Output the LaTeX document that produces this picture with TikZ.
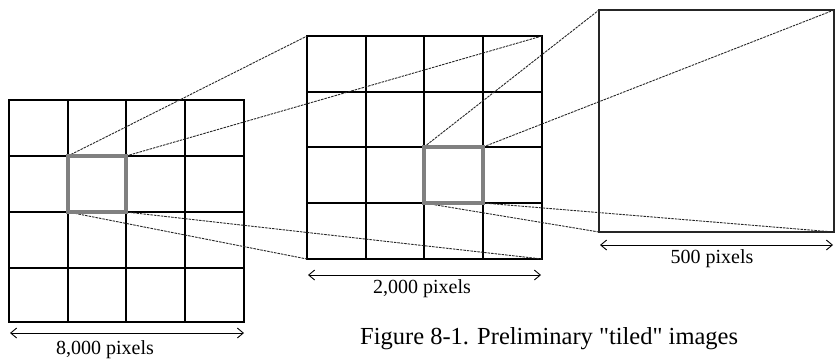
\documentclass[tikz,border=0pt]{standalone}
\usepackage{fontspec}
\setmainfont{Liberation Serif}
\newfontfamily\capfont{Liberation Serif}
\usetikzlibrary{arrows.meta}
\begin{document}
\begin{tikzpicture}[x=1pt,y=-1pt,
  gridline/.style={line width=1.3pt,black},
  boxline/.style={line width=1.1pt,black!85},
  hilite/.style={line width=3.5pt,black!50},
  zoomline/.style={line width=0.9pt,black!85,dash pattern=on 2.5pt off 1pt},
  dimarrow/.style={line width=0.9pt,{Straight Barb[length=6pt,width=10pt]}-{Straight Barb[length=6pt,width=10pt]}},
  lbl/.style={font=\fontsize{20}{24}\selectfont,inner sep=0pt,anchor=base},
  captiontext/.style={font=\capfont\fontsize{24.5}{28}\selectfont,inner sep=0pt,anchor=base west}]
\useasboundingbox (0,0) rectangle (835,360);
% left grid
\draw[gridline] (9,100) rectangle (244,322);
\foreach \x in {68,126,185} \draw[gridline] (\x,100) -- (\x,322);
\foreach \y in {156,212,268} \draw[gridline] (9,\y) -- (244,\y);
% middle grid
\draw[gridline] (307,36) rectangle (542,259);
\foreach \x in {366,424,483} \draw[gridline] (\x,36) -- (\x,259);
\foreach \y in {92,147,203} \draw[gridline] (307,\y) -- (542,\y);
% right box
\draw[boxline] (599,10) rectangle (834,232);
% named corners
\coordinate (hLtl) at (68,156);  \coordinate (hLtr) at (126,156);
\coordinate (hLbl) at (68,212);  \coordinate (hLbr) at (126,212);
\coordinate (mtl) at (307,36);   \coordinate (mtr) at (542,36);
\coordinate (mbl) at (307,259);  \coordinate (mbr) at (542,259);
\coordinate (hMtl) at (424,147); \coordinate (hMtr) at (483,147);
\coordinate (hMbl) at (424,203); \coordinate (hMbr) at (483,203);
\coordinate (rtl) at (599,10);   \coordinate (rtr) at (834,10);
\coordinate (rbl) at (599,232);  \coordinate (rbr) at (834,232);
% zoom lines
\draw[zoomline] (hLtl) -- (mtl);
\draw[zoomline] (hLtr) -- (mtr);
\draw[zoomline] (hLbl) -- (mbl);
\draw[zoomline] (hLbr) -- (mbr);
\draw[zoomline] (hMtl) -- (rtl);
\draw[zoomline] (hMtr) -- (rtr);
\draw[zoomline] (hMbl) -- (rbl);
\draw[zoomline] (hMbr) -- (rbr);
% highlights
\draw[hilite] (hLtl) rectangle (hLbr);
\draw[hilite] (hMtl) rectangle (hMbr);
% dimension arrows
\coordinate (a1l) at (10,333);  \coordinate (a1r) at (244,333);
\coordinate (a2l) at (308,275); \coordinate (a2r) at (541,275);
\coordinate (a3l) at (600,245); \coordinate (a3r) at (833,245);
\draw[dimarrow] (a1l) -- (a1r);
\draw[dimarrow] (a2l) -- (a2r);
\draw[dimarrow] (a3l) -- (a3r);
\node[lbl] (l1) at (105,354) {8,000 pixels};
\node[lbl] (l2) at (422,293) {2,000 pixels};
\node[lbl] (l3) at (712,263) {500 pixels};
\node[captiontext] (caption) at (360,344) {Figure 8-1. Preliminary "tiled" images};
\end{tikzpicture}
\end{document}
